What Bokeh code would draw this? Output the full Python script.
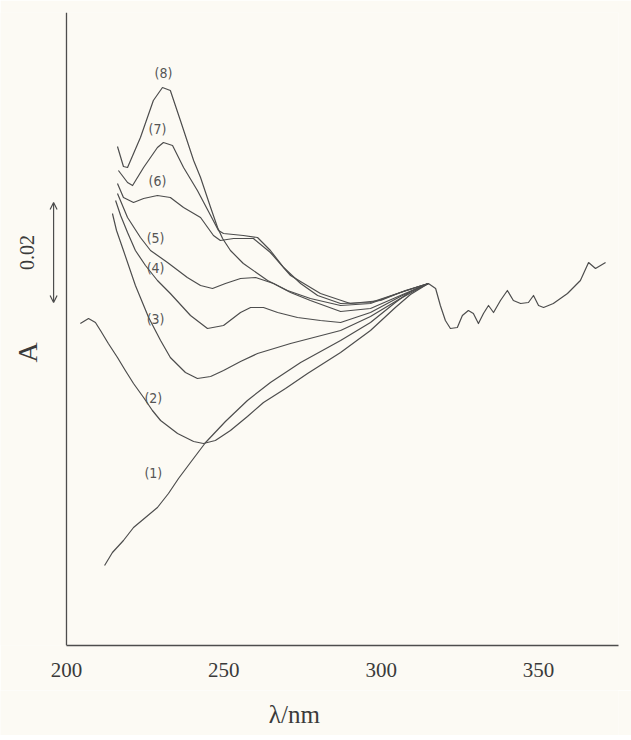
from bokeh.plotting import figure
from bokeh.models import Label, Arrow, OpenHead, FixedTicker, ColumnDataSource, Range1d, Span
from bokeh.layouts import column
from bokeh.core.properties import value
from bokeh.embed import file_html
from bokeh.resources import INLINE
import math

# ---- data (wavelength in nm, absorbance A) ----
c1_x = [212.1, 214.6, 218.1, 221.3, 225.1, 228.9, 232.4, 235.6, 239.4, 244.2, 250.5, 257.5, 264.8, 274.4, 287.1, 296.6, 304.5, 309.3, 315.0]
c1_y = [0.0160, 0.0186, 0.0210, 0.0236, 0.0256, 0.0276, 0.0304, 0.0334, 0.0366, 0.0406, 0.0448, 0.0490, 0.0526, 0.0566, 0.0610, 0.0646, 0.0686, 0.0708, 0.0724]

c2_x = [204.4, 207.0, 209.2, 210.8, 213.3, 216.2, 218.7, 221.3, 224.5, 227.3, 229.9, 235.3, 240.4, 243.5, 247.3, 252.1, 257.5, 262.6, 269.6, 276.6, 287.1, 296.6, 304.5, 309.3, 315.0]
c2_y = [0.0644, 0.0654, 0.0646, 0.0630, 0.0604, 0.0576, 0.0550, 0.0524, 0.0496, 0.0470, 0.0450, 0.0424, 0.0408, 0.0404, 0.0410, 0.0430, 0.0458, 0.0486, 0.0514, 0.0544, 0.0586, 0.0630, 0.0676, 0.0702, 0.0724]

c3_x = [214.6, 215.9, 218.1, 221.9, 226.1, 229.9, 233.0, 237.8, 241.6, 245.8, 249.9, 255.3, 260.7, 271.2, 287.1, 296.6, 306.1, 315.0]
c3_y = [0.0864, 0.0830, 0.0790, 0.0720, 0.0656, 0.0610, 0.0576, 0.0546, 0.0534, 0.0538, 0.0550, 0.0568, 0.0584, 0.0604, 0.0630, 0.0658, 0.0694, 0.0724]

c4_x = [215.6, 217.2, 219.4, 221.9, 225.1, 228.9, 233.0, 239.4, 244.8, 249.9, 255.3, 258.5, 262.6, 267.1, 273.4, 280.7, 287.1, 296.6, 306.1, 315.0]
c4_y = [0.0890, 0.0860, 0.0826, 0.0790, 0.0760, 0.0730, 0.0704, 0.0660, 0.0634, 0.0640, 0.0666, 0.0676, 0.0676, 0.0666, 0.0656, 0.0650, 0.0646, 0.0666, 0.0698, 0.0724]

c5_x = [216.2, 219.4, 223.5, 226.7, 232.1, 238.4, 242.6, 246.4, 250.5, 255.3, 260.1, 265.8, 271.2, 277.5, 287.1, 296.6, 306.1, 315.0]
c5_y = [0.0904, 0.0856, 0.0816, 0.0790, 0.0766, 0.0736, 0.0720, 0.0714, 0.0724, 0.0734, 0.0736, 0.0724, 0.0706, 0.0690, 0.0668, 0.0674, 0.0700, 0.0724]

c6_x = [216.2, 218.1, 221.3, 224.5, 228.9, 233.0, 237.2, 242.6, 246.7, 248.9, 253.1, 259.4, 264.8, 271.2, 280.7, 290.2, 299.8, 307.7, 315.0]
c6_y = [0.0924, 0.0896, 0.0886, 0.0894, 0.0900, 0.0896, 0.0876, 0.0856, 0.0820, 0.0810, 0.0814, 0.0814, 0.0786, 0.0740, 0.0704, 0.0684, 0.0690, 0.0710, 0.0724]

c7_x = [216.5, 219.4, 221.0, 224.5, 228.9, 230.8, 233.7, 237.2, 241.6, 245.8, 248.3, 249.9, 256.2, 260.7, 264.8, 269.0, 274.4, 279.8, 287.1, 296.6, 306.1, 315.0]
c7_y = [0.0950, 0.0926, 0.0920, 0.0956, 0.0996, 0.1006, 0.1000, 0.0956, 0.0910, 0.0860, 0.0830, 0.0824, 0.0820, 0.0816, 0.0790, 0.0756, 0.0724, 0.0700, 0.0684, 0.0686, 0.0706, 0.0724]

c8_x = [216.2, 218.1, 219.4, 223.5, 227.6, 230.5, 233.0, 236.2, 240.4, 242.6, 245.8, 248.0, 249.6, 252.1, 256.2, 263.9, 270.2, 277.5, 287.1, 296.6, 306.1, 315.0]
c8_y = [0.0998, 0.0958, 0.0956, 0.1016, 0.1090, 0.1116, 0.1110, 0.1050, 0.0970, 0.0936, 0.0876, 0.0836, 0.0814, 0.0790, 0.0764, 0.0730, 0.0710, 0.0694, 0.0680, 0.0684, 0.0706, 0.0724]

# common long-wavelength part shared by all spectra
tail_x = [315.0, 317.3, 318.8, 320.4, 322.0, 324.2, 325.8, 327.7, 329.3, 330.9, 332.5, 334.1, 335.7, 337.9, 340.1, 342.0, 344.3, 346.8, 348.4, 350.0, 351.6, 354.7, 359.2, 363.3, 365.9, 368.1, 369.7, 371.3]
tail_y = [0.0724, 0.0714, 0.0680, 0.0650, 0.0634, 0.0636, 0.0660, 0.0670, 0.0664, 0.0644, 0.0664, 0.0680, 0.0666, 0.0690, 0.0710, 0.0690, 0.0684, 0.0686, 0.0700, 0.0680, 0.0676, 0.0684, 0.0704, 0.0730, 0.0766, 0.0754, 0.0760, 0.0766]

curve_labels = ["(8)", "(7)", "(6)", "(5)", "(4)", "(3)", "(2)", "(1)"]
label_x = [230.8, 228.9, 228.9, 228.3, 228.3, 228.3, 227.6, 227.6]
label_y = [0.1146, 0.1034, 0.0930, 0.0816, 0.0756, 0.0654, 0.0496, 0.0346]

x_ticks = [200, 250, 300, 350]
x_start = 200             # where the vertical axis stands
scale_bar = 0.02          # length of the double arrow in A units
scale_bar_low = 0.0686
a_label_y = 0.0586

BG = "#fcfaf4"
INK = "#4d4d4d"
TXT = "#3a3a3a"

# ---- main plot (frame spans the full width so the left-hand notes stay visible) ----
p = figure(width=631, height=690, output_backend="svg", toolbar_location=None,
           x_range=Range1d(179.03, 375.41), y_range=Range1d(0, 0.1266),
           min_border_left=0, min_border_right=13, min_border_top=12, min_border_bottom=45)
p.background_fill_color = BG
p.border_fill_color = BG
p.outline_line_color = None
p.grid.visible = False
p.yaxis.visible = False

xa = p.xaxis[0]
xa.bounds = (x_start, 375.41)
xa.ticker = FixedTicker(ticks=x_ticks)
xa.minor_tick_line_color = None
xa.major_tick_in = 0
xa.major_tick_out = 0
xa.major_label_standoff = 17
xa.major_label_text_font = "Liberation Serif"
xa.major_label_text_font_size = "21px"
xa.major_label_text_color = TXT
xa.axis_line_color = INK
xa.axis_line_width = 1.3

# vertical axis line at 200 nm
p.add_layout(Span(location=x_start, dimension="height", line_color=INK, line_width=1.3))

for xs, ys in [(c1_x, c1_y), (c2_x, c2_y), (c3_x, c3_y), (c4_x, c4_y),
               (c5_x, c5_y), (c6_x, c6_y), (c7_x, c7_y), (c8_x, c8_y),
               (tail_x, tail_y)]:
    p.line(xs, ys, line_color=INK, line_width=1.2, line_join="round")

src = ColumnDataSource(dict(x=label_x, y=label_y, t=curve_labels))
p.text(x="x", y="y", text="t", source=src, text_font=value("DejaVu Sans Condensed"),
       text_font_size="14px", text_color="#555555", text_align="center",
       text_baseline="middle")

# scale arrow (0.02) and the A label, left of the axis
p.add_layout(Arrow(x_start=195.9, x_end=195.9, y_start=scale_bar_low, y_end=scale_bar_low + scale_bar,
                   line_color=INK, line_width=1.2,
                   start=OpenHead(size=7, line_color=INK, line_width=1.2),
                   end=OpenHead(size=7, line_color=INK, line_width=1.2)))
p.add_layout(Label(x=187.6, y=scale_bar_low + scale_bar / 2, text="0.02", angle=math.pi / 2,
                   text_font="Liberation Serif", text_font_size="20px", text_color=TXT,
                   text_align="center", text_baseline="middle"))
p.add_layout(Label(x=187.6, y=a_label_y, text="A", angle=math.pi / 2,
                   text_font="Liberation Serif", text_font_size="28px", text_color=TXT,
                   text_align="center", text_baseline="middle"))

# ---- bottom strip: x-axis title ----
bottom = figure(width=631, height=45, output_backend="svg", toolbar_location=None,
                x_range=(0, 631), y_range=(0, 45),
                min_border_left=0, min_border_right=0, min_border_top=0, min_border_bottom=0)
bottom.background_fill_color = BG
bottom.border_fill_color = BG
bottom.outline_line_color = None
bottom.grid.visible = False
bottom.axis.visible = False
bottom.add_layout(Label(x=300, y=21, text="λ/nm",
                        text_font="Liberation Serif", text_font_size="25px", text_color=TXT,
                        text_align="center", text_baseline="middle"))

layout = column(p, bottom, spacing=0)
open("out.html", "w").write(file_html(layout, INLINE))
